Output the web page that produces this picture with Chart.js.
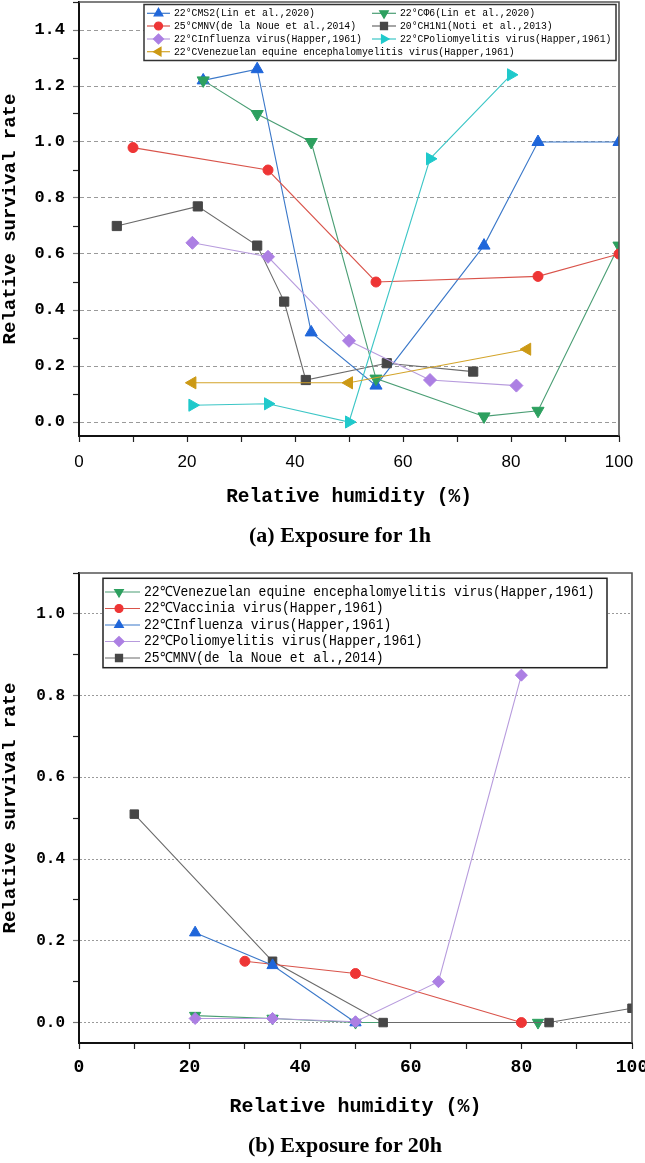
<!DOCTYPE html>
<html><head><meta charset="utf-8">
<script src="https://cdn.jsdelivr.net/npm/chart.js@4.4.1/dist/chart.umd.min.js"></script>
<style>
html,body{margin:0;padding:0;background:#fff;width:645px;height:1163px;overflow:hidden;position:relative}
#wa{position:absolute;left:0;top:0;width:645px;height:550px}
#wb{position:absolute;left:0;top:560px;width:645px;height:603px}
.sub{position:absolute;font-family:"Liberation Serif","Times New Roman",serif;font-weight:bold;font-size:22px;color:#000;white-space:nowrap;transform:translate(-50%,-50%)}
</style></head>
<body>
<div id="wa"><canvas id="ca"></canvas></div>
<div id="wb"><canvas id="cb"></canvas></div>
<div class="sub" style="left:340px;top:535px">(a) Exposure for 1h</div>
<div class="sub" style="left:345px;top:1145px">(b) Exposure for 20h</div>
<script>
// ---------- Chart (a): exposure for 1 h ----------
const aSeriesNames = [
  "22°CMS2(Lin et al.,2020)",
  "22°CΦ6(Lin et al.,2020)",
  "25°CMNV(de la Noue et al.,2014)",
  "20°CH1N1(Noti et al.,2013)",
  "22°CInfluenza virus(Happer,1961)",
  "22°CPoliomyelitis virus(Happer,1961)",
  "22°CVenezuelan equine encephalomyelitis virus(Happer,1961)"
];
const aMS2RH = [23, 33, 43, 55, 75, 85, 100];
const aMS2Val = [1.22, 1.26, 0.32, 0.13, 0.63, 1.00, 1.00];
const aPhi6RH = [23, 33, 43, 55, 75, 85, 100];
const aPhi6Val = [1.22, 1.10, 1.00, 0.155, 0.02, 0.04, 0.63];
const aMNVRH = [10, 35, 55, 85, 100];
const aMNVVal = [0.98, 0.90, 0.50, 0.52, 0.60];
const aH1N1RH = [7, 22, 33, 38, 42, 57, 73];
const aH1N1Val = [0.70, 0.77, 0.63, 0.43, 0.15, 0.21, 0.18];
const aFluRH = [21, 35, 50, 65, 81];
const aFluVal = [0.64, 0.59, 0.29, 0.15, 0.13];
const aPolioRH = [21, 35, 50, 65, 80];
const aPolioVal = [0.06, 0.065, 0.0, 0.94, 1.24];
const aVEERH = [21, 50, 83];
const aVEEVal = [0.14, 0.14, 0.26];
const aYTickLabels = ["0.0","0.2","0.4","0.6","0.8","1.0","1.2","1.4"];
const aXTickLabels = ["0","20","40","60","80","100"];

// ---------- Chart (b): exposure for 20 h ----------
const bSeriesNames = [
  "22℃Venezuelan equine encephalomyelitis virus(Happer,1961)",
  "22℃Vaccinia virus(Happer,1961)",
  "22℃Influenza virus(Happer,1961)",
  "22℃Poliomyelitis virus(Happer,1961)",
  "25℃MNV(de la Noue et al.,2014)"
];
const bVEERH = [21, 35, 50, 83];
const bVEEVal = [0.017, 0.01, 0.0, 0.0];
const bVacRH = [30, 50, 80];
const bVacVal = [0.15, 0.12, 0.0];
const bFluRH = [21, 35, 50];
const bFluVal = [0.22, 0.14, 0.0];
const bPolioRH = [21, 35, 50, 65, 80];
const bPolioVal = [0.01, 0.01, 0.002, 0.10, 0.85];
const bMNVRH = [10, 35, 55, 85, 100];
const bMNVVal = [0.51, 0.15, 0.0, 0.0, 0.035];
const bYTickLabels = ["0.0","0.2","0.4","0.6","0.8","1.0"];
const bXTickLabels = ["0","20","40","60","80","100"];

// ---------- styles ----------
const STY = {
  blueTri:   {line:'#3B78C9', fill:'#1F66DA', style:'triangle', rot:0,   r:7},
  greenTri:  {line:'#4A9E74', fill:'#2DA05F', style:'triangle', rot:180, r:7},
  redDot:    {line:'#D9534A', fill:'#EE3535', style:'circle',   rot:0,   r:5},
  graySq:    {line:'#6A6A6A', fill:'#474747', style:'rect',     rot:0,   r:6.5},
  purpleDia: {line:'#B79BDD', fill:'#AC7FE3', style:'rectRot',  rot:0,   r:6.5},
  cyanTri:   {line:'#3CC6C6', fill:'#1FC9CB', style:'triangle', rot:90,  r:7},
  goldTri:   {line:'#D3A42A', fill:'#CC9914', style:'triangle', rot:270, r:7}
};
function pts(xs, ys){ return xs.map((x,i)=>({x:x, y:ys[i]})); }
function ds(label, xs, ys, s, order){
  return {label, data: pts(xs, ys), borderColor: s.line, borderWidth: 1.1,
    pointBackgroundColor: s.fill, pointBorderColor: s.fill, pointBorderWidth: 1,
    pointStyle: s.style, pointRotation: s.rot, pointRadius: s.r, tension: 0, order: order, fill:false};
}

const boxPlugin = {
  id: 'boxLegend',
  afterDraw(chart, args, o){
    const ctx = chart.ctx, ca = chart.chartArea;
    ctx.save();
    ctx.strokeStyle = o.frameColor; ctx.lineWidth = o.frameWidth;
    ctx.beginPath(); ctx.moveTo(ca.left, ca.top); ctx.lineTo(ca.right, ca.top); ctx.lineTo(ca.right, ca.bottom); ctx.stroke();
    const b = o.box;
    ctx.fillStyle = '#fff'; ctx.fillRect(b[0], b[1], b[2]-b[0], b[3]-b[1]);
    ctx.strokeStyle = o.boxColor; ctx.lineWidth = o.boxWidth; ctx.strokeRect(b[0], b[1], b[2]-b[0], b[3]-b[1]);
    ctx.font = o.font; ctx.textBaseline = 'middle'; ctx.textAlign = 'left';
    chart.data.datasets.forEach((d, i) => {
      const col = o.cols[i % o.cols.length];
      const y = o.rows[Math.floor(i / o.cols.length)];
      ctx.strokeStyle = d.borderColor; ctx.lineWidth = 1.2; ctx.setLineDash([]);
      ctx.beginPath(); ctx.moveTo(col[0], y); ctx.lineTo(col[1], y); ctx.stroke();
      ctx.fillStyle = d.pointBackgroundColor; ctx.strokeStyle = d.pointBorderColor;
      const r = d.pointStyle === 'circle' ? o.markerRadius * 0.8 : o.markerRadius;
      Chart.helpers.drawPoint(ctx, {pointStyle: d.pointStyle, rotation: d.pointRotation || 0, radius: r, borderWidth: 1}, col[2], y);
      ctx.fillStyle = '#000';
      const w = ctx.measureText(d.label).width;
      ctx.fillText(d.label, col[3], y, w * o.squeeze);
    });
    ctx.restore();
  }
};

const MONO = "'Liberation Mono','DejaVu Sans Mono',monospace";
function isMajor(v){ return Math.round(v*10) % 2 === 0; }

function makeOptions(cfg){
  return {
    responsive: true, maintainAspectRatio: false, animation: false, devicePixelRatio: 1,
    events: [],
    layout: {autoPadding: false, padding: {left: 0, right: cfg.padRight, top: cfg.padTop, bottom: 0}},
    plugins: {legend: {display: false}, tooltip: {enabled: false}, boxLegend: cfg.legend},
    scales: {
      x: {
        type: 'linear', min: 0, max: 100,
        afterFit(s){ s.height = cfg.xHeight; s.paddingLeft = 0; s.paddingRight = 0; },
        ticks: {stepSize: 10, autoSkip: false, maxRotation: 0, padding: cfg.xTickPad, color: '#000',
          font: cfg.xTickFont,
          callback(v){ const s = String(Math.round(v)); return cfg.xTickLabels.includes(s) ? s : ''; }},
        grid: {drawOnChartArea: false, drawTicks: true, tickLength: 6, tickColor: '#222', tickWidth: 1.2},
        border: {display: true, color: '#111', width: 2},
        title: {display: true, text: 'Relative humidity (%)', color: '#000', font: cfg.xTitleFont,
          padding: {top: 0, bottom: cfg.xTitlePadBottom}}
      },
      y: {
        type: 'linear', min: -0.05, max: cfg.yMax,
        afterFit(s){ s.width = 79; s.paddingTop = 0; s.paddingBottom = 0; },
        ticks: {stepSize: 0.1, includeBounds: false, autoSkip: false, padding: 8, color: '#000',
          font: cfg.yTickFont,
          callback(v){ const s = v.toFixed(1); return (isMajor(v) && cfg.yTickLabels.includes(s)) ? s : ''; }},
        grid: {
          color: c => isMajor(c.tick.value) ? '#9a9a9a' : 'rgba(0,0,0,0)',
          lineWidth: 1, drawTicks: true, tickLength: 6,
          tickColor: c => isMajor(c.tick.value) ? '#777' : '#222', tickWidth: 1.2
        },
        border: {display: true, color: '#111', width: 2, dash: cfg.dash},
        title: {display: true, text: 'Relative survival rate', color: '#000',
          font: {family: MONO, size: 19, weight: 'bold', lineHeight: 1.1}, padding: {top: 0, bottom: 0}}
      }
    }
  };
}

new Chart(document.getElementById('ca'), {
  type: 'line',
  data: {datasets: [
    ds(aSeriesNames[0], aMS2RH, aMS2Val, STY.blueTri, 7),
    ds(aSeriesNames[1], aPhi6RH, aPhi6Val, STY.greenTri, 6),
    ds(aSeriesNames[2], aMNVRH, aMNVVal, STY.redDot, 5),
    ds(aSeriesNames[3], aH1N1RH, aH1N1Val, STY.graySq, 4),
    ds(aSeriesNames[4], aFluRH, aFluVal, STY.purpleDia, 3),
    ds(aSeriesNames[5], aPolioRH, aPolioVal, STY.cyanTri, 2),
    ds(aSeriesNames[6], aVEERH, aVEEVal, STY.goldTri, 1)
  ]},
  options: makeOptions({
    padRight: 26, padTop: 2, xHeight: 114, xTickPad: 10, yMax: 1.5, dash: [4, 3],
    xTickLabels: aXTickLabels, yTickLabels: aYTickLabels,
    xTickFont: {family: "'Liberation Sans',Arial,sans-serif", size: 17},
    yTickFont: {family: MONO, size: 17, weight: 'bold'},
    xTitleFont: {family: MONO, size: 19.5, weight: 'bold', lineHeight: 1.2},
    xTitlePadBottom: 41,
    legend: {frameColor: '#555', frameWidth: 1.6, box: [144, 4.5, 616, 60.5], boxColor: '#333', boxWidth: 1.5,
      font: "11px " + MONO, squeeze: 0.89, markerRadius: 5,
      cols: [[147, 170, 158.5, 174], [372, 396, 384, 400]], rows: [13.3, 26, 39, 51.7]}
  }),
  plugins: [boxPlugin]
});

new Chart(document.getElementById('cb'), {
  type: 'line',
  data: {datasets: [
    ds(bSeriesNames[0], bVEERH, bVEEVal, Object.assign({}, STY.greenTri, {r: 6.5}), 5),
    ds(bSeriesNames[1], bVacRH, bVacVal, STY.redDot, 3),
    ds(bSeriesNames[2], bFluRH, bFluVal, Object.assign({}, STY.blueTri, {r: 6.5}), 2),
    ds(bSeriesNames[3], bPolioRH, bPolioVal, Object.assign({}, STY.purpleDia, {r: 6}), 1),
    ds(bSeriesNames[4], bMNVRH, bMNVVal, Object.assign({}, STY.graySq, {r: 6}), 4)
  ]},
  options: makeOptions({
    padRight: 13, padTop: 13, xHeight: 120, xTickPad: 8, yMax: 1.1, dash: [2, 2],
    xTickLabels: bXTickLabels, yTickLabels: bYTickLabels,
    xTickFont: {family: MONO, size: 18, weight: 'bold'},
    yTickFont: {family: MONO, size: 16, weight: 'bold'},
    xTitleFont: {family: MONO, size: 20, weight: 'bold', lineHeight: 1.2},
    xTitlePadBottom: 44,
    legend: {frameColor: '#555', frameWidth: 1.6, box: [103, 18.3, 607, 107.7], boxColor: '#222', boxWidth: 1.5,
      font: "14px " + MONO, squeeze: 0.93, markerRadius: 5,
      cols: [[105, 140, 119, 144]], rows: [32, 48.5, 65, 81.5, 98]}
  }),
  plugins: [boxPlugin]
});
</script>
</body></html>
